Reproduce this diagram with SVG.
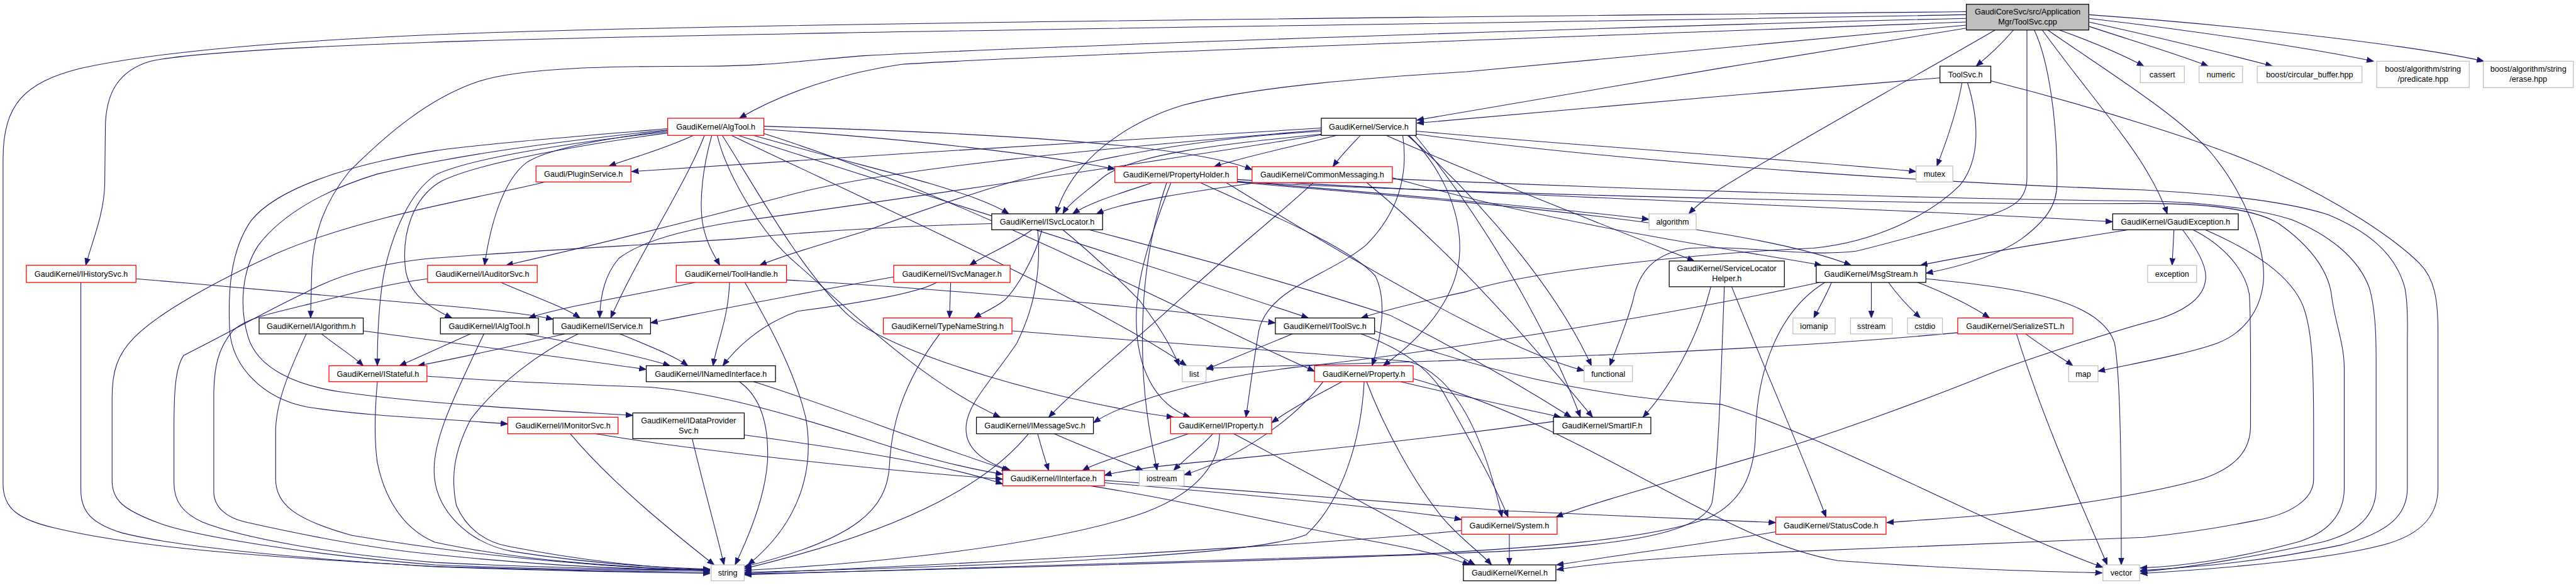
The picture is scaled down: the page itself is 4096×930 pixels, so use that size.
<svg xmlns="http://www.w3.org/2000/svg" width="4096" height="930" viewBox="0 0 4096 930">
<defs>
<style>
.e{fill:none;stroke:#191970;stroke-width:1.1;marker-end:url(#a)}
.n rect{fill:#fff;stroke:#000;stroke-width:1.3}
.r rect{stroke:#f00}
.g rect{stroke:#bfbfbf}
text{font-family:"Liberation Sans",Arial,Helvetica,sans-serif;font-size:13px;text-anchor:middle;fill:#000}
</style>
<marker id="a" viewBox="0 0 12 10" markerWidth="12" markerHeight="10" refX="11.5" refY="5" orient="auto" markerUnits="userSpaceOnUse"><path d="M0,0.5 L11.5,5 L0,9.5 Z" fill="#191970" stroke="#191970" stroke-width="0.8"/></marker>
</defs>
<rect width="4096" height="930" fill="#fff"/>
<g transform="scale(0.974)">
<g id="edges">
<path class="e" d="M3210,19 C2600,26 1200,36 700,57 C450,68 250,85 130,112 C40,135 5,170 5,260 L5,790 C5,830 30,848 90,862 C200,888 350,905 700,924 C900,931 1050,933 1159,934"/>
<path class="e" d="M3210,24 C2500,38 1200,52 700,69 C450,78 300,88 245,100 C195,115 172,150 172,210 L171,300 C170,350 150,395 140,433"/>
<path class="e" d="M3210,30 C2700,42 1700,75 1410,91 C1300,100 1250,108 1150,108 C1000,108 850,110 781,133 C700,160 630,220 570,280 C530,330 512,380 509,440 L507,519"/>
<path class="e" d="M3210,36 C2700,55 1700,90 1472,105 C1380,118 1280,150 1207,193"/>
<path class="e" d="M3210,41 C3000,60 2800,80 2394,117 C2250,126 2050,140 1930,172 C1840,200 1750,260 1724,349"/>
<path class="e" d="M3210,46 L2810,111 L2313,196"/>
<path class="e" d="M3287,49 C3265,75 3245,92 3226,108"/>
<path class="e" d="M3257,49 C3100,140 2900,250 2810,307 C2790,320 2772,333 2757,349"/>
<path class="e" d="M3321,49 C3345,100 3359,200 3358,300 C3358,335 3340,360 3300,390 C3260,418 3200,435 3144,446"/>
<path class="e" d="M3309,49 L3309,290 C3309,325 3290,340 3230,357 C3150,378 3080,398 3030,410 C2950,420 2850,400 2760,405 C2700,412 2675,445 2666,490 C2655,530 2640,565 2628,597"/>
<path class="e" d="M3334,49 C3400,140 3470,220 3505,280 C3520,305 3530,325 3538,349"/>
<path class="e" d="M3343,49 C3430,110 3560,190 3610,250 C3660,310 3700,400 3695,460 C3690,510 3660,545 3620,560 C3570,578 3490,592 3425,606"/>
<path class="e" d="M3362,49 C3420,70 3470,92 3500,108"/>
<path class="e" d="M3410,43 C3480,66 3560,90 3605,108"/>
<path class="e" d="M3410,36 C3520,60 3650,92 3710,108"/>
<path class="e" d="M3410,30 C3600,52 3790,82 3875,100"/>
<path class="e" d="M3410,24 C3700,45 3960,78 4055,100"/>
<path class="e" d="M3167,127 L2810,157 L2313,201"/>
<path class="e" d="M3203,135 C3195,180 3180,225 3162,271"/>
<path class="e" d="M3250,132 C3400,170 3620,235 3717,283 C3820,330 3910,390 3950,430 C3975,455 3980,490 3980,540 L3980,797 C3980,840 3955,870 3899,887 C3820,910 3650,927 3494,936"/>
<path class="e" d="M3212,135 C3232,200 3232,262 3200,302 C3150,352 3060,395 2960,405 C2800,412 2500,440 2394,476 C2320,492 2262,506 2222,519"/>
<path class="e" d="M1132,221 C1080,245 1030,258 994,271"/>
<path class="e" d="M1090,213 C1000,225 900,240 860,265 C820,295 800,370 791,433"/>
<path class="e" d="M1162,221 C1148,270 1140,330 1148,370 C1155,400 1165,415 1175,433"/>
<path class="e" d="M1247,211 C1500,228 1700,252 1820,276"/>
<path class="e" d="M1247,206 C1650,218 1950,238 2044,277"/>
<path class="e" d="M1230,221 C1350,255 1450,280 1520,300 C1580,318 1620,332 1647,349"/>
<path class="e" d="M1090,217 C950,236 780,266 720,296 C675,322 655,380 662,440 C668,480 700,502 738,519"/>
<path class="e" d="M1090,215 C900,236 760,262 712,285 C670,312 640,380 626,450 C618,500 616,550 616,597"/>
<path class="e" d="M1090,210 C900,226 780,236 710,246 C560,270 450,310 410,360 C375,410 372,480 375,540 C380,600 430,650 500,664 C600,680 720,683 829,692"/>
<path class="e" d="M1090,212 C900,232 750,252 616,284 C530,310 460,350 422,400 C395,440 390,500 405,550 C420,600 480,630 566,641 C700,660 900,670 1033,678"/>
<path class="e" d="M1150,221 C1120,300 1040,420 997,519"/>
<path class="e" d="M1205,221 C1500,315 1900,440 2136,519"/>
<path class="e" d="M1171,221 C1185,280 1240,380 1300,430 C1380,500 1500,620 1633,681"/>
<path class="e" d="M1179,221 C1230,300 1300,430 1380,510 C1450,580 1750,660 1916,681"/>
<path class="e" d="M1194,221 C1400,320 1800,500 1937,597"/>
<path class="e" d="M1247,218 C1600,330 1950,520 2146,606"/>
<path class="e" d="M2157,209 C1800,230 1400,255 1031,280"/>
<path class="e" d="M2157,212 C1800,242 1450,275 1290,318 C1150,355 980,398 826,433"/>
<path class="e" d="M2157,214 C1800,235 1600,310 1410,378 C1330,402 1280,417 1240,433"/>
<path class="e" d="M2182,221 C2100,242 2030,256 1982,272"/>
<path class="e" d="M2221,221 C2203,240 2188,255 2176,272"/>
<path class="e" d="M2157,219 C2000,235 1850,250 1800,290 C1770,315 1745,332 1735,349"/>
<path class="e" d="M2263,221 C2400,282 2650,380 2766,426"/>
<path class="e" d="M2312,214 C2600,240 2950,262 3128,280"/>
<path class="e" d="M2157,220 C1900,262 1400,335 1200,362 C1100,378 1040,398 1010,422 C988,448 980,480 979,519"/>
<path class="e" d="M2290,221 C2300,290 2280,350 2230,400 C2170,450 2070,470 2055,540 C2045,600 2040,640 2034,681"/>
<path class="e" d="M2300,221 C2350,270 2385,340 2383,410 C2381,480 2330,545 2258,597"/>
<path class="e" d="M2310,221 C2440,380 2535,560 2580,681"/>
<path class="e" d="M2298,221 C2420,330 2540,470 2598,597"/>
<path class="e" d="M2312,219 C2700,270 3200,300 3500,310 C3654,318 3745,333 3800,350 C3860,375 3910,410 3926,470 C3932,500 3930,540 3930,560 L3930,797 C3930,840 3900,870 3820,890 C3700,915 3600,925 3494,931"/>
<path class="e" d="M890,297 C800,320 600,350 453,413 C350,460 260,510 220,550 C190,580 183,608 183,650 L183,785 C183,815 199,832 263,855 C320,875 500,905 710,922 C900,930 1050,931 1159,931"/>
<path class="e" d="M1885,297 C1830,315 1780,330 1751,349"/>
<path class="e" d="M2020,296 C2250,315 2550,340 2692,358"/>
<path class="e" d="M1912,297 C1880,380 1855,450 1855,520 C1855,600 1885,660 1943,681"/>
<path class="e" d="M1905,297 C1870,400 1862,500 1866,600 C1870,680 1882,730 1889,768"/>
<path class="e" d="M1957,297 C2050,340 2200,400 2245,450 C2265,490 2255,550 2240,597"/>
<path class="e" d="M2020,293 C2400,318 3100,340 3449,362"/>
<path class="e" d="M2015,297 C2400,330 2850,365 3022,433"/>
<path class="e" d="M2020,297 C2500,320 3200,335 3500,332 C3600,332 3680,340 3720,365 C3770,400 3800,440 3806,480 C3810,520 3827,560 3827,600 L3827,797 C3827,840 3800,870 3750,885 C3650,912 3560,925 3494,927"/>
<path class="e" d="M2000,297 C2200,420 2450,570 2586,605"/>
<path class="e" d="M2060,297 C1950,312 1830,330 1790,349"/>
<path class="e" d="M2273,290 C2550,370 2850,410 2974,433"/>
<path class="e" d="M2145,297 C2100,340 2000,420 1941,475 C1850,560 1760,630 1712,681"/>
<path class="e" d="M2230,297 C2380,420 2500,560 2600,681"/>
<path class="e" d="M2273,292 C2700,310 3200,326 3500,328 C3600,330 3680,340 3740,358 C3800,382 3850,420 3868,470 C3877,500 3879,540 3879,580 L3879,797 C3879,840 3850,870 3790,885 C3650,915 3560,928 3494,933"/>
<path class="e" d="M1685,375 C1650,400 1610,415 1583,433"/>
<path class="e" d="M1619,365 C1500,368 1350,375 1200,390 C1050,400 850,410 700,422 C600,432 540,455 498,478 C430,510 380,540 300,580 C286,600 284,640 284,700 L284,788 C284,820 300,838 330,852 C400,880 550,905 710,918 C900,927 1050,930 1159,930"/>
<path class="e" d="M1701,375 C1690,420 1660,470 1640,490 C1620,505 1605,510 1590,519"/>
<path class="e" d="M1735,375 C1790,420 1830,460 1860,490 C1890,530 1910,560 1925,597"/>
<path class="e" d="M1694,375 C1700,440 1690,500 1660,560 C1620,620 1577,660 1577,700 C1577,730 1600,752 1650,768"/>
<path class="e" d="M1778,375 C1950,420 2100,460 2270,515 C2400,580 2500,640 2565,681"/>
<path class="e" d="M1552,461 L1550,519"/>
<path class="e" d="M1529,461 C1500,478 1400,495 1302,508 C1240,530 1200,570 1180,597"/>
<path class="e" d="M1459,452 C1300,480 1150,510 1062,527"/>
<path class="e" d="M1135,461 C1044,480 920,500 863,519"/>
<path class="e" d="M1191,461 C1189,520 1170,560 1164,597"/>
<path class="e" d="M1216,461 C1262,540 1298,610 1315,680 C1330,760 1310,850 1221,922"/>
<path class="e" d="M1284,457 C1600,475 1900,505 2082,527"/>
<path class="e" d="M2827,468 C2880,600 2950,760 2981,844"/>
<path class="e" d="M2793,468 C2770,560 2720,640 2682,681"/>
<path class="e" d="M2815,468 C2810,600 2806,750 2795,820 C2780,870 2650,890 2450,900 C2100,915 1600,928 1215,937"/>
<path class="e" d="M2990,461 C2980,485 2968,505 2961,519"/>
<path class="e" d="M3055,461 L3055,519"/>
<path class="e" d="M3083,461 C3100,485 3120,505 3135,519"/>
<path class="e" d="M3131,461 C3180,480 3220,500 3248,519"/>
<path class="e" d="M3144,455 C3300,470 3430,490 3452,560 C3463,620 3463,800 3463,922"/>
<path class="e" d="M2979,461 C2900,510 2868,610 2866,708 C2864,780 2840,820 2790,845 C2700,880 2500,895 2300,905 C1900,920 1500,930 1215,938"/>
<path class="e" d="M2970,461 C2700,520 2300,580 2110,600 C1950,620 1830,660 1785,690"/>
<path class="e" d="M3549,375 L3546,433"/>
<path class="e" d="M3475,375 C3350,395 3220,415 3135,433"/>
<path class="e" d="M3580,375 C3630,400 3665,440 3672,480 C3675,520 3674,600 3674,695 C3674,735 3650,762 3600,780 C3520,805 3350,830 3250,840 C3180,846 3120,850 3080,853"/>
<path class="e" d="M3600,375 C3680,410 3740,450 3760,500 C3775,540 3777,600 3777,700 L3777,782 C3777,815 3740,840 3680,850 C3600,866 3540,873 3500,877 C3200,890 2900,900 2810,905 C2700,912 2600,920 2541,930"/>
<path class="e" d="M3563,375 C3590,410 3605,440 3600,460 C3595,490 3560,510 3520,522 C3450,540 3300,590 3253,608 C3150,650 3000,705 2900,735 C2750,780 2600,820 2540,844"/>
<path class="e" d="M2899,868 C2800,885 2650,905 2541,922"/>
<path class="e" d="M1803,788 C1950,800 2100,813 2250,830 C2320,838 2360,843 2386,848"/>
<path class="e" d="M1803,784 C2000,800 2200,815 2464,834 C2700,845 2820,850 2899,853"/>
<path class="e" d="M1780,793 C1950,820 2100,858 2250,885 C2320,898 2370,910 2399,922"/>
<path class="e" d="M2464,872 L2464,922"/>
<path class="e" d="M2386,866 C2200,885 1700,915 1215,936"/>
<path class="e" d="M2191,623 C2150,645 2110,665 2076,690"/>
<path class="e" d="M2231,623 C2260,700 2310,790 2355,845 C2385,880 2415,900 2435,922"/>
<path class="e" d="M2227,623 C2222,720 2190,820 2132,873 C2050,905 1700,922 1215,934"/>
<path class="e" d="M2286,623 C2400,650 2500,670 2548,681"/>
<path class="e" d="M2160,623 C2100,700 2000,755 1933,775"/>
<path class="e" d="M2307,618 C2600,700 2800,880 3000,915 C3200,930 3350,933 3432,935"/>
<path class="e" d="M1940,708 C1880,730 1800,750 1767,768"/>
<path class="e" d="M1980,708 C1960,730 1935,748 1916,768"/>
<path class="e" d="M1991,708 C1990,760 1950,810 1853,842 C1700,890 1450,918 1215,931"/>
<path class="e" d="M2014,708 C2150,780 2300,860 2408,922"/>
<path class="e" d="M1694,708 C1700,730 1706,750 1712,768"/>
<path class="e" d="M1721,708 C1770,730 1830,752 1866,768"/>
<path class="e" d="M1679,708 C1620,780 1500,860 1215,928"/>
<path class="e" d="M931,708 C1000,790 1100,870 1166,922"/>
<path class="e" d="M972,708 C1100,730 1400,765 1637,782"/>
<path class="e" d="M1130,716 C1150,800 1170,870 1182,922"/>
<path class="e" d="M1215,710 C1400,735 1550,760 1637,790"/>
<path class="e" d="M1207,623 C1245,650 1255,700 1253,752 C1250,800 1230,860 1200,922"/>
<path class="e" d="M1230,623 C1350,660 1500,720 1647,768"/>
<path class="e" d="M616,623 C611,680 611,720 616,755 C625,800 650,860 710,885 C850,915 1000,925 1159,931"/>
<path class="e" d="M697,614 C800,622 1000,630 1062,632 C1150,640 1243,662 1410,715 C1500,745 1580,765 1637,774"/>
<path class="e" d="M525,545 C550,565 575,580 593,597"/>
<path class="e" d="M593,540 C700,555 900,580 1055,603"/>
<path class="e" d="M500,545 C475,600 452,650 450,700 L450,782 C450,822 480,848 575,874 C800,912 1000,926 1159,932"/>
<path class="e" d="M768,545 C730,562 690,580 652,597"/>
<path class="e" d="M858,545 C950,562 1040,580 1094,597"/>
<path class="e" d="M790,545 C740,650 705,720 709,775 C712,830 760,885 836,900 C950,918 1060,926 1159,929"/>
<path class="e" d="M922,545 C850,562 760,582 682,597"/>
<path class="e" d="M1012,545 C1060,565 1100,580 1123,597"/>
<path class="e" d="M944,545 C881,575 813,625 768,685 C740,740 736,780 745,825 C760,860 790,885 831,892 C950,915 1050,926 1159,930"/>
<path class="e" d="M222,455 C400,470 600,488 700,497 C800,505 860,512 903,521"/>
<path class="e" d="M132,461 L132,800 C132,835 150,855 200,870 C300,895 500,912 710,925 C900,932 1050,934 1159,936"/>
<path class="e" d="M818,461 C860,480 920,500 947,519"/>
<path class="e" d="M698,455 C640,462 589,475 498,498 C440,512 400,520 380,540 C355,570 350,600 349,640 L349,802 C349,828 370,845 400,852 C480,870 600,895 710,905 C900,925 1050,930 1159,931"/>
<path class="e" d="M1534,545 C1470,630 1455,700 1452,760 C1448,830 1400,880 1215,925"/>
<path class="e" d="M1652,540 C1900,560 2200,580 2300,590 C2370,610 2420,700 2452,844"/>
<path class="e" d="M2222,545 C2290,570 2330,600 2356,640 C2400,720 2440,790 2462,844"/>
<path class="e" d="M2110,545 C2050,570 2000,590 1969,603"/>
<path class="e" d="M2244,540 C2400,600 2600,650 2810,660 C3000,720 3250,860 3433,926"/>
<path class="e" d="M3307,545 C3340,570 3368,585 3384,597"/>
<path class="e" d="M3292,545 C3340,700 3410,850 3440,922"/>
<path class="e" d="M3196,543 C2800,580 2300,590 1969,601"/>
<path class="e" d="M2536,688 C2300,720 2110,740 1950,755 C1880,762 1830,768 1803,776"/>
</g>
<g id="root" class="n"><rect x="3210" y="7" width="200" height="42" style="fill:#bfbfbf"/><text x="3310" y="24">GaudiCoreSvc/src/Application</text><text x="3310" y="40">Mgr/ToolSvc.cpp</text></g>
<g id="toolsvc_h" class="n"><rect x="3167" y="108" width="83" height="27"/><text x="3208.5" y="126">ToolSvc.h</text></g>
<g id="cassert" class="n g"><rect x="3494" y="108" width="72" height="27"/><text x="3530" y="126">cassert</text></g>
<g id="numeric" class="n g"><rect x="3590" y="108" width="71" height="27"/><text x="3625.5" y="126">numeric</text></g>
<g id="circular_buffer" class="n g"><rect x="3685" y="108" width="171" height="27"/><text x="3770.5" y="126">boost/circular_buffer.hpp</text></g>
<g id="predicate" class="n g"><rect x="3880" y="100" width="151" height="43"/><text x="3955.5" y="117">boost/algorithm/string</text><text x="3955.5" y="133">/predicate.hpp</text></g>
<g id="erase" class="n g"><rect x="4054" y="100" width="147" height="43"/><text x="4127.5" y="117">boost/algorithm/string</text><text x="4127.5" y="133">/erase.hpp</text></g>
<g id="AlgTool" class="n r"><rect x="1090" y="193" width="157" height="28"/><text x="1168.5" y="211.5">GaudiKernel/AlgTool.h</text></g>
<g id="Service" class="n"><rect x="2157" y="193" width="155" height="28"/><text x="2234.5" y="211.5">GaudiKernel/Service.h</text></g>
<g id="PluginService" class="n r"><rect x="875" y="271" width="155" height="26"/><text x="952.5" y="288.5">Gaudi/PluginService.h</text></g>
<g id="PropertyHolder" class="n r"><rect x="1820" y="272" width="200" height="26"/><text x="1920" y="289.5">GaudiKernel/PropertyHolder.h</text></g>
<g id="CommonMessaging" class="n r"><rect x="2044" y="272" width="229" height="26"/><text x="2158.5" y="289.5">GaudiKernel/CommonMessaging.h</text></g>
<g id="mutex" class="n g"><rect x="3128" y="271" width="60" height="26"/><text x="3158" y="288.5">mutex</text></g>
<g id="ISvcLocator" class="n"><rect x="1619" y="349" width="181" height="26"/><text x="1709.5" y="366.5">GaudiKernel/ISvcLocator.h</text></g>
<g id="algorithm" class="n g"><rect x="2692" y="349" width="77" height="26"/><text x="2730.5" y="366.5">algorithm</text></g>
<g id="GaudiException" class="n"><rect x="3449" y="349" width="205" height="26"/><text x="3551.5" y="366.5">GaudiKernel/GaudiException.h</text></g>
<g id="IHistorySvc" class="n r"><rect x="43" y="433" width="179" height="28"/><text x="132.5" y="451.5">GaudiKernel/IHistorySvc.h</text></g>
<g id="IAuditorSvc" class="n r"><rect x="698" y="433" width="179" height="28"/><text x="787.5" y="451.5">GaudiKernel/IAuditorSvc.h</text></g>
<g id="ToolHandle" class="n r"><rect x="1104" y="433" width="180" height="28"/><text x="1194" y="451.5">GaudiKernel/ToolHandle.h</text></g>
<g id="ISvcManager" class="n r"><rect x="1459" y="433" width="190" height="28"/><text x="1554" y="451.5">GaudiKernel/ISvcManager.h</text></g>
<g id="ServiceLocatorHelper" class="n"><rect x="2725" y="426" width="188" height="42"/><text x="2819" y="443">GaudiKernel/ServiceLocator</text><text x="2819" y="459">Helper.h</text></g>
<g id="MsgStream" class="n"><rect x="2965" y="433" width="179" height="28"/><text x="3054.5" y="451.5">GaudiKernel/MsgStream.h</text></g>
<g id="exception" class="n g"><rect x="3506" y="433" width="80" height="28"/><text x="3546" y="451.5">exception</text></g>
<g id="IAlgorithm" class="n"><rect x="423" y="519" width="170" height="26"/><text x="508" y="536.5">GaudiKernel/IAlgorithm.h</text></g>
<g id="IAlgTool" class="n"><rect x="719" y="519" width="160" height="26"/><text x="799" y="536.5">GaudiKernel/IAlgTool.h</text></g>
<g id="IService" class="n"><rect x="903" y="519" width="159" height="26"/><text x="982.5" y="536.5">GaudiKernel/IService.h</text></g>
<g id="TypeNameString" class="n r"><rect x="1442" y="519" width="210" height="26"/><text x="1547" y="536.5">GaudiKernel/TypeNameString.h</text></g>
<g id="IToolSvc" class="n"><rect x="2082" y="519" width="162" height="26"/><text x="2163" y="536.5">GaudiKernel/IToolSvc.h</text></g>
<g id="iomanip" class="n g"><rect x="2927" y="519" width="69" height="26"/><text x="2961.5" y="536.5">iomanip</text></g>
<g id="sstream" class="n g"><rect x="3021" y="519" width="68" height="26"/><text x="3055" y="536.5">sstream</text></g>
<g id="cstdio" class="n g"><rect x="3114" y="519" width="57" height="26"/><text x="3142.5" y="536.5">cstdio</text></g>
<g id="SerializeSTL" class="n r"><rect x="3196" y="519" width="188" height="26"/><text x="3290" y="536.5">GaudiKernel/SerializeSTL.h</text></g>
<g id="IStateful" class="n r"><rect x="537" y="597" width="160" height="26"/><text x="617" y="614.5">GaudiKernel/IStateful.h</text></g>
<g id="INamedInterface" class="n"><rect x="1055" y="597" width="211" height="26"/><text x="1160.5" y="614.5">GaudiKernel/INamedInterface.h</text></g>
<g id="list" class="n g"><rect x="1930" y="597" width="39" height="26"/><text x="1949.5" y="614.5">list</text></g>
<g id="Property" class="n r"><rect x="2146" y="597" width="161" height="26"/><text x="2226.5" y="614.5">GaudiKernel/Property.h</text></g>
<g id="functional" class="n g"><rect x="2586" y="597" width="79" height="26"/><text x="2625.5" y="614.5">functional</text></g>
<g id="map" class="n g"><rect x="3377" y="597" width="48" height="26"/><text x="3401" y="614.5">map</text></g>
<g id="IMonitorSvc" class="n r"><rect x="829" y="681" width="180" height="27"/><text x="919" y="699">GaudiKernel/IMonitorSvc.h</text></g>
<g id="IDataProviderSvc" class="n"><rect x="1033" y="674" width="182" height="42"/><text x="1124" y="691">GaudiKernel/IDataProvider</text><text x="1124" y="707">Svc.h</text></g>
<g id="IMessageSvc" class="n"><rect x="1594" y="681" width="191" height="27"/><text x="1689.5" y="699">GaudiKernel/IMessageSvc.h</text></g>
<g id="IProperty" class="n r"><rect x="1911" y="681" width="165" height="27"/><text x="1993.5" y="699">GaudiKernel/IProperty.h</text></g>
<g id="SmartIF" class="n"><rect x="2536" y="681" width="159" height="27"/><text x="2615.5" y="699">GaudiKernel/SmartIF.h</text></g>
<g id="IInterface" class="n r"><rect x="1637" y="768" width="166" height="25"/><text x="1720" y="785">GaudiKernel/IInterface.h</text></g>
<g id="iostream" class="n g"><rect x="1860" y="768" width="73" height="25"/><text x="1896.5" y="785">iostream</text></g>
<g id="System" class="n r"><rect x="2386" y="844" width="156" height="28"/><text x="2464" y="862.5">GaudiKernel/System.h</text></g>
<g id="StatusCode" class="n r"><rect x="2899" y="844" width="180" height="28"/><text x="2989" y="862.5">GaudiKernel/StatusCode.h</text></g>
<g id="string" class="n g"><rect x="1161" y="922" width="54" height="26"/><text x="1188" y="939.5">string</text></g>
<g id="Kernel" class="n"><rect x="2389" y="922" width="151" height="26"/><text x="2464.5" y="939.5">GaudiKernel/Kernel.h</text></g>
<g id="vector" class="n g"><rect x="3433" y="922" width="60" height="26"/><text x="3463" y="939.5">vector</text></g>
</g>
</svg>
